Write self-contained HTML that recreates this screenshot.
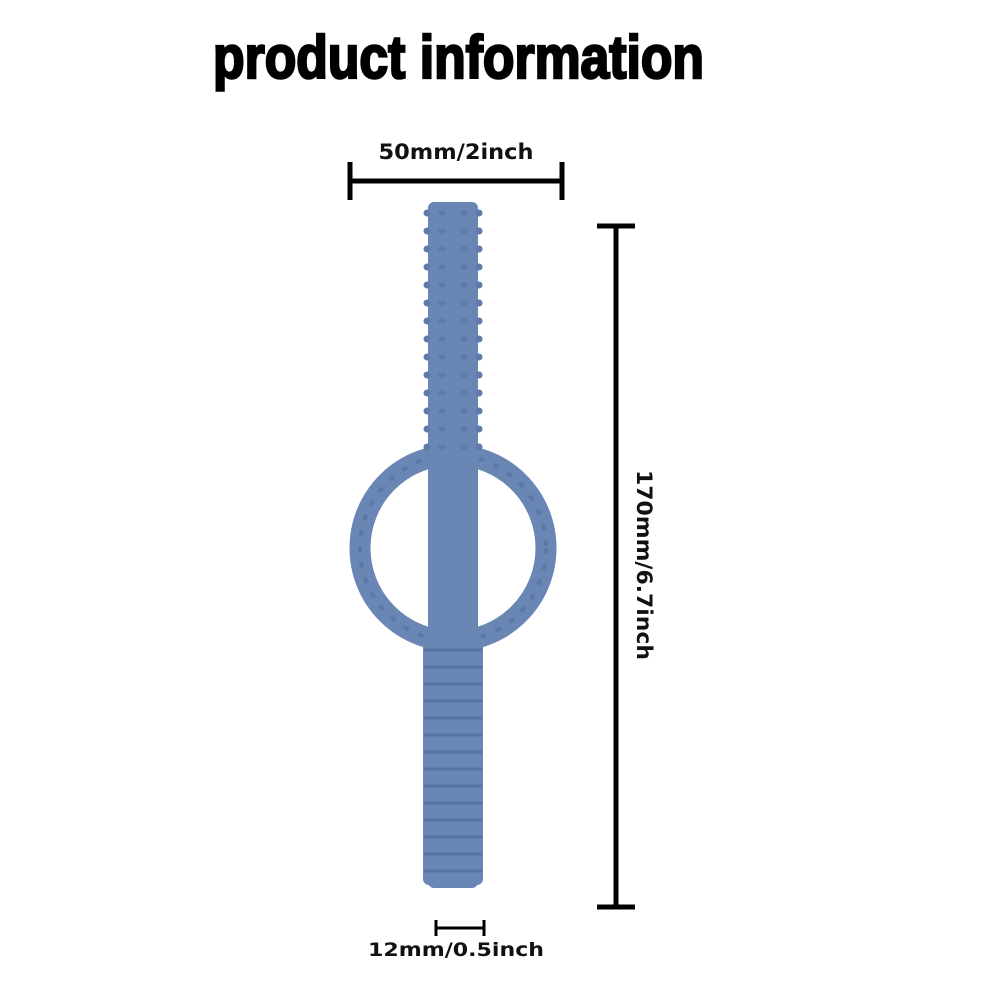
<!DOCTYPE html>
<html><head><meta charset="utf-8"><style>
html,body{margin:0;padding:0;background:#fff;}
svg{display:block;}
</style></head><body>
<svg width="1002" height="1002" viewBox="0 0 1002 1002" xmlns="http://www.w3.org/2000/svg">
<rect width="1002" height="1002" fill="#fff"/>
<text x="213" y="78" font-family="Liberation Sans, sans-serif" font-weight="bold" font-size="60" textLength="491" lengthAdjust="spacingAndGlyphs" fill="#000" stroke="#000" stroke-width="2.5">product information</text>
<text x="456" y="159" text-anchor="middle" font-family="DejaVu Sans, sans-serif" font-weight="bold" font-size="21" textLength="155" lengthAdjust="spacingAndGlyphs" fill="#111">50mm/2inch</text>
<g stroke="#000" stroke-width="5" fill="none">
<line x1="350" y1="181" x2="563" y2="181"/>
<line x1="350" y1="162" x2="350" y2="200"/>
<line x1="562" y1="162" x2="562" y2="200"/>
<line x1="616" y1="226" x2="616" y2="907"/>
<line x1="597" y1="226" x2="635" y2="226"/>
<line x1="597" y1="907" x2="635" y2="907"/>
</g>
<g stroke="#000" stroke-width="3" fill="none">
<line x1="436" y1="928" x2="484" y2="928"/>
<line x1="436" y1="920" x2="436" y2="936"/>
<line x1="484" y1="920" x2="484" y2="936"/>
</g>
<text transform="translate(637,565) rotate(90)" text-anchor="middle" font-family="DejaVu Sans, sans-serif" font-weight="bold" font-size="21" textLength="190" lengthAdjust="spacingAndGlyphs" fill="#111">170mm/6.7inch</text>
<text x="456" y="956" text-anchor="middle" font-family="DejaVu Sans, sans-serif" font-weight="bold" font-size="19" textLength="176" lengthAdjust="spacingAndGlyphs" fill="#111">12mm/0.5inch</text>
<circle cx="453" cy="548" r="93" fill="none" stroke="#6a86b4" stroke-width="21"/>
<circle cx="453" cy="548" r="93" fill="none" stroke="#5c78a6" stroke-width="4" stroke-dasharray="6 10"/>
<rect x="428" y="202" width="50" height="686" rx="6" fill="#6a86b4"/>
<rect x="423" y="640" width="60" height="245" rx="6" fill="#6a86b4"/>
<g stroke="#5874a3" stroke-width="3">
<line x1="424" y1="650" x2="482" y2="650"/><line x1="424" y1="667" x2="482" y2="667"/>
<line x1="424" y1="684" x2="482" y2="684"/><line x1="424" y1="701" x2="482" y2="701"/>
<line x1="424" y1="718" x2="482" y2="718"/><line x1="424" y1="735" x2="482" y2="735"/>
<line x1="424" y1="752" x2="482" y2="752"/><line x1="424" y1="769" x2="482" y2="769"/>
<line x1="424" y1="786" x2="482" y2="786"/><line x1="424" y1="803" x2="482" y2="803"/>
<line x1="424" y1="820" x2="482" y2="820"/><line x1="424" y1="837" x2="482" y2="837"/>
<line x1="424" y1="854" x2="482" y2="854"/><line x1="424" y1="871" x2="482" y2="871"/>
</g>
<g fill="#5f7baa">
<circle cx="427" cy="213" r="3.5"/><circle cx="479" cy="213" r="3.5"/><ellipse cx="442" cy="213" rx="4" ry="2.5"/><ellipse cx="464" cy="213" rx="4" ry="3"/>
<circle cx="427" cy="231" r="3.5"/><circle cx="479" cy="231" r="3.5"/><ellipse cx="442" cy="231" rx="4" ry="2.5"/><ellipse cx="464" cy="231" rx="4" ry="3"/>
<circle cx="427" cy="249" r="3.5"/><circle cx="479" cy="249" r="3.5"/><ellipse cx="442" cy="249" rx="4" ry="2.5"/><ellipse cx="464" cy="249" rx="4" ry="3"/>
<circle cx="427" cy="267" r="3.5"/><circle cx="479" cy="267" r="3.5"/><ellipse cx="442" cy="267" rx="4" ry="2.5"/><ellipse cx="464" cy="267" rx="4" ry="3"/>
<circle cx="427" cy="285" r="3.5"/><circle cx="479" cy="285" r="3.5"/><ellipse cx="442" cy="285" rx="4" ry="2.5"/><ellipse cx="464" cy="285" rx="4" ry="3"/>
<circle cx="427" cy="303" r="3.5"/><circle cx="479" cy="303" r="3.5"/><ellipse cx="442" cy="303" rx="4" ry="2.5"/><ellipse cx="464" cy="303" rx="4" ry="3"/>
<circle cx="427" cy="321" r="3.5"/><circle cx="479" cy="321" r="3.5"/><ellipse cx="442" cy="321" rx="4" ry="2.5"/><ellipse cx="464" cy="321" rx="4" ry="3"/>
<circle cx="427" cy="339" r="3.5"/><circle cx="479" cy="339" r="3.5"/><ellipse cx="442" cy="339" rx="4" ry="2.5"/><ellipse cx="464" cy="339" rx="4" ry="3"/>
<circle cx="427" cy="357" r="3.5"/><circle cx="479" cy="357" r="3.5"/><ellipse cx="442" cy="357" rx="4" ry="2.5"/><ellipse cx="464" cy="357" rx="4" ry="3"/>
<circle cx="427" cy="375" r="3.5"/><circle cx="479" cy="375" r="3.5"/><ellipse cx="442" cy="375" rx="4" ry="2.5"/><ellipse cx="464" cy="375" rx="4" ry="3"/>
<circle cx="427" cy="393" r="3.5"/><circle cx="479" cy="393" r="3.5"/><ellipse cx="442" cy="393" rx="4" ry="2.5"/><ellipse cx="464" cy="393" rx="4" ry="3"/>
<circle cx="427" cy="411" r="3.5"/><circle cx="479" cy="411" r="3.5"/><ellipse cx="442" cy="411" rx="4" ry="2.5"/><ellipse cx="464" cy="411" rx="4" ry="3"/>
<circle cx="427" cy="429" r="3.5"/><circle cx="479" cy="429" r="3.5"/><ellipse cx="442" cy="429" rx="4" ry="2.5"/><ellipse cx="464" cy="429" rx="4" ry="3"/>
<circle cx="427" cy="447" r="3.5"/><circle cx="479" cy="447" r="3.5"/><ellipse cx="442" cy="447" rx="4" ry="2.5"/><ellipse cx="464" cy="447" rx="4" ry="3"/>
</g>
</svg>
</body></html>
